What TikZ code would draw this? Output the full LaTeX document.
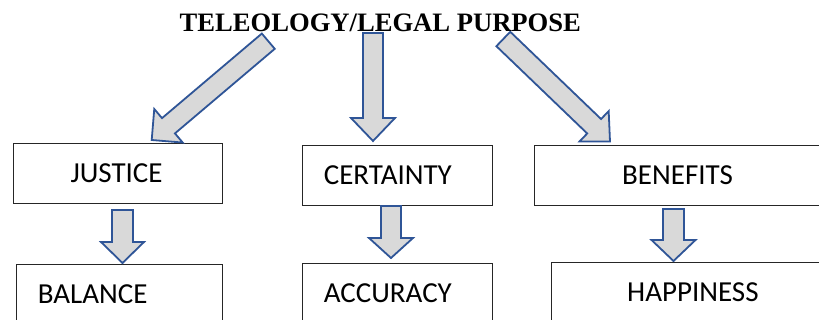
\documentclass[tikz,border=0pt]{standalone}
\usepackage{fontspec}
\setmainfont{Liberation Serif}
\newfontfamily\boxfont{Carlito}
\usetikzlibrary{calc}
\definecolor{arrowblue}{RGB}{47,85,151}
\definecolor{arrowfill}{RGB}{217,217,217}
\tikzset{
  blockarrow/.style={draw=arrowblue, fill=arrowfill, line width=1.8pt, line join=miter},
  box/.style={draw=black!85, line width=1pt, rectangle, anchor=north west, align=left,
    font=\boxfont\fontsize{29}{32}\selectfont, minimum height=60pt, inner ysep=0pt},
  titletext/.style={font=\bfseries\fontsize{26.6}{30}\selectfont, anchor=base, inner sep=0pt}
}
% from, to, shaft half width, head half width, head length
\newcommand{\blockarr}[5]{%
  \coordinate (bh) at ($(#2)!#5!(#1)$);
  \draw[blockarrow] ($(#1)!#3!90:(#2)$) -- ($(bh)!#3!90:(#2)$) -- ($(bh)!#4!90:(#2)$)
    -- (#2) -- ($(bh)!#4!-90:(#2)$) -- ($(bh)!#3!-90:(#2)$) -- ($(#1)!#3!-90:(#2)$) -- cycle;
}
\begin{document}
\begin{tikzpicture}[x=1pt,y=-1pt]
\useasboundingbox (0,0) rectangle (819,320);
% boxes
\node[box, inner xsep=57pt, text width=95pt] (justice) at (13,143) {JUSTICE};
\node[box, inner xsep=21.3pt, text width=163.4pt] (balance) at (16,264) {BALANCE};
\node[box, inner xsep=21.3pt, text width=147.4pt] (certainty) at (302,145) {CERTAINTY};
\node[box, inner xsep=21.3pt, text width=147.4pt] (accuracy) at (302,263) {ACCURACY};
\node[box, inner xsep=87.7pt, text width=120.6pt] (benefits) at (534,145) {BENEFITS};
\node[box, inner xsep=75.7pt, text width=127.6pt] (happiness) at (551,262) {HAPPINESS};
% arrow end points
\coordinate (lt) at (268.3,41.2); \coordinate (lh) at (151.7,140);
\coordinate (mt) at (373,33);    \coordinate (mh) at (373,141);
\coordinate (rt) at (503.3,39);  \coordinate (rh) at (610,141.5);
\coordinate (jt) at (122.5,210); \coordinate (jh) at (122.5,263);
\coordinate (ct) at (391,206);   \coordinate (ch) at (391,258);
\coordinate (bt) at (673.5,209); \coordinate (bhd) at (673.5,261);
\blockarr{lt}{lh}{10pt}{22pt}{22pt}
\blockarr{mt}{mh}{10pt}{22pt}{23pt}
\blockarr{rt}{rh}{10pt}{21pt}{22pt}
\blockarr{jt}{jh}{10.5pt}{21.5pt}{21pt}
\blockarr{ct}{ch}{10pt}{22pt}{20pt}
\blockarr{bt}{bhd}{10.5pt}{22pt}{21pt}
% title
\node[titletext] (title) at (380.3,31.5) {TELEOLOGY/LEGAL PURPOSE};
\end{tikzpicture}
\end{document}
